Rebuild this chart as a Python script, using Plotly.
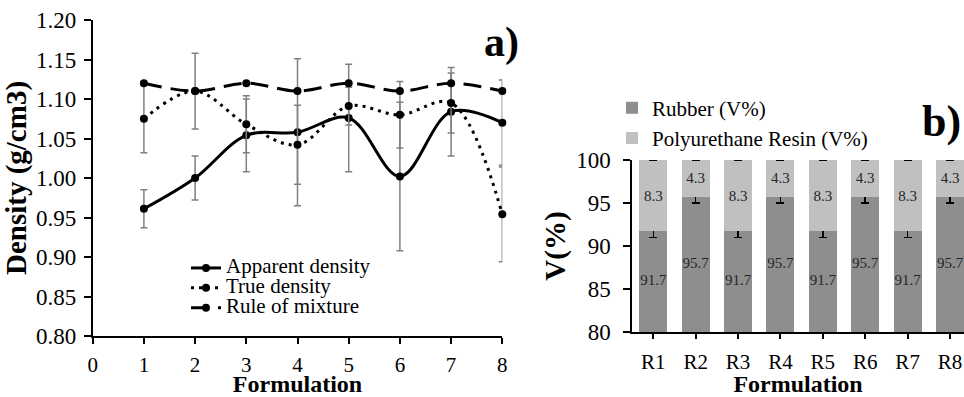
import plotly.graph_objects as go

# ---- data: panel a ----
formulation = [1, 2, 3, 4, 5, 6, 7, 8]
apparent_density = [0.961, 1.000, 1.054, 1.058, 1.076, 1.002, 1.084, 1.070]
apparent_err = [0.024, 0.028, 0.046, 0.093, 0.068, 0.094, 0.056, 0.054]
true_density = [1.075, 1.110, 1.068, 1.042, 1.091, 1.080, 1.095, 0.954]
true_err = [0.043, 0.048, 0.036, 0.050, 0.024, 0.042, 0.038, 0.060]
rule_of_mixture = [1.12, 1.11, 1.12, 1.11, 1.12, 1.11, 1.12, 1.11]

# ---- data: panel b ----
categories = ["R1", "R2", "R3", "R4", "R5", "R6", "R7", "R8"]
rubber = [91.7, 95.7, 91.7, 95.7, 91.7, 95.7, 91.7, 95.7]
rubber_err = [0.7, 0.7, 0.7, 0.7, 0.7, 0.7, 0.7, 0.7]
resin = [8.3, 4.3, 8.3, 4.3, 8.3, 4.3, 8.3, 4.3]
resin_err = [0, 0, 0, 0, 0, 0, 0, 0]
v_axis_min, v_axis_max = 80, 100

FONT = "Liberation Serif"
W, H = 964, 397

def px_x(p):
    return p / W

def px_y(p):
    return (H - p) / H

def big(name, size):
    return '<span style="font-size:%dpx">%s</span>' % (size, name)

fig = go.Figure()

err_style = dict(type="data", color="#808080", thickness=1.5, width=3.5, visible=True)

fig.add_trace(go.Scatter(
    x=formulation, y=apparent_density, name=big("Apparent density", 21),
    mode="lines+markers", line=dict(color="black", width=3, shape="spline", smoothing=1),
    marker=dict(color="black", size=8), error_y=dict(array=apparent_err, **err_style),
    xaxis="x", yaxis="y", legend="legend", cliponaxis=False))
fig.add_trace(go.Scatter(
    x=formulation, y=true_density, name=big("True density", 21),
    mode="lines+markers", line=dict(color="black", width=3, dash="3px,5px", shape="spline", smoothing=1),
    marker=dict(color="black", size=8), error_y=dict(array=true_err, **err_style),
    xaxis="x", yaxis="y", legend="legend", cliponaxis=False))
fig.add_trace(go.Scatter(
    x=formulation, y=rule_of_mixture, name=big("Rule of mixture", 21),
    mode="lines+markers", line=dict(color="black", width=3, dash="18px,9px", shape="spline", smoothing=1),
    marker=dict(color="black", size=8),
    xaxis="x", yaxis="y", legend="legend", cliponaxis=False))

fig.add_trace(go.Bar(
    x=categories, y=rubber, name="Rubber (V%)", marker=dict(color="#8e8e8e", line=dict(width=0)),
    error_y=dict(type="data", array=rubber_err, color="black", thickness=1.5, width=4),
    xaxis="x2", yaxis="y2", legend="legend2"))
fig.add_trace(go.Bar(
    x=categories, y=resin, name="Polyurethane Resin (V%)", marker=dict(color="#c0c0c0", line=dict(width=0)),
    text=resin, texttemplate="%{text:.1f}", textposition="inside", insidetextanchor="middle",
    textangle=0, textfont=dict(family=FONT, size=15, color="#262626"),
    error_y=dict(type="data", array=resin_err, color="black", thickness=1.5, width=4),
    xaxis="x2", yaxis="y2", legend="legend2"))
# rubber value labels, centred in the visible part of each bar
fig.add_trace(go.Scatter(
    x=categories, y=[(v_axis_min + v) / 2 for v in rubber], mode="text",
    text=["%.1f" % v for v in rubber], textfont=dict(family=FONT, size=15, color="#262626"),
    showlegend=False, hoverinfo="skip", xaxis="x2", yaxis="y2"))

axis_common = dict(showgrid=False, zeroline=False, showline=True, linecolor="black", linewidth=1.5,
                   ticks="outside", tickcolor="black", tickwidth=1.5, automargin=False)
ytick_font = dict(family=FONT, size=23, color="black")
xtick_font = dict(family=FONT, size=21, color="black")
xtitle_font = dict(family=FONT, size=24, color="black")
ytitle_font = dict(family=FONT, size=29, color="black")

fig.update_layout(
    width=W, height=H, margin=dict(l=0, r=0, t=0, b=0),
    paper_bgcolor="white", plot_bgcolor="white",
    barmode="stack", bargap=0.34,
    xaxis=dict(domain=[px_x(92.7), px_x(502.3)], range=[0, 8], dtick=1, ticklen=6, ticklabelstandoff=3,
               tickfont=xtick_font,
               title=dict(text="<b>Formulation</b>", font=xtitle_font, standoff=4),
               anchor="y", **axis_common),
    yaxis=dict(domain=[px_y(336), px_y(20)], range=[0.8, 1.2], dtick=0.05, tickformat=".2f", ticklen=7,
               ticklabelstandoff=3, tickfont=ytick_font,
               title=dict(text="<b>Density (g/cm3)</b>", font=ytitle_font, standoff=4),
               anchor="x", **axis_common),
    xaxis2=dict(domain=[px_x(632.1), 1.0], range=[-0.5, 7.33], ticklen=5, ticklabelstandoff=5,
                tickfont=xtick_font,
                title=dict(text="<b>Formulation</b>", font=xtitle_font, standoff=4),
                anchor="y2", **axis_common),
    yaxis2=dict(domain=[px_y(332), px_y(160)], range=[v_axis_min, v_axis_max], dtick=5, ticklen=7,
                ticklabelstandoff=8, tickfont=ytick_font,
                title=dict(text="<b>V(%)</b>", font=ytitle_font, standoff=2),
                anchor="x2", **axis_common),
    legend=dict(x=px_x(186), y=px_y(288), xanchor="left", yanchor="middle",
                bgcolor="rgba(0,0,0,0)", font=dict(family=FONT, size=13, color="black"),
                itemwidth=30, tracegroupgap=0),
    legend2=dict(x=px_x(612), y=px_y(123), xanchor="left", yanchor="middle",
                 bgcolor="rgba(0,0,0,0)", font=dict(family=FONT, size=21, color="black"),
                 itemwidth=30, traceorder="normal"),
    annotations=[
        dict(text="<b>a)</b>", x=px_x(501), y=px_y(43), xref="paper", yref="paper",
             xanchor="center", yanchor="middle",
             showarrow=False, font=dict(family=FONT, size=42, color="black")),
        dict(text="<b>b)</b>", x=px_x(941), y=px_y(121), xref="paper", yref="paper",
             xanchor="center", yanchor="middle",
             showarrow=False, font=dict(family=FONT, size=44, color="black")),
    ],
)

fig.write_html("out.html")
